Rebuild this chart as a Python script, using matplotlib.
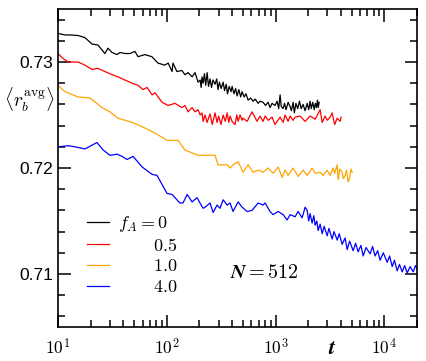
import math
import matplotlib
matplotlib.use("Agg")
import matplotlib.pyplot as plt
from matplotlib.ticker import MultipleLocator, FuncFormatter, FormatStrFormatter, LogLocator

plt.rcParams['font.family'] = ['Liberation Sans', 'DejaVu Sans']
plt.rcParams['mathtext.fontset'] = 'cm'

# f_A = 0
t_black = [10, 11.6, 12.9, 15.3, 17.7, 20.5, 23.3, 27, 28.8, 31.4, 34.9, 37.2, 41.3, 46, 51, 54.4,
           63, 73, 83, 96, 103, 112, 114, 124, 138, 147, 157, 171, 182, 194,
           203, 207, 211, 216, 222, 228, 235, 242, 250, 258, 266, 278, 288, 296, 305, 316, 330, 340,
           352, 362, 375, 390, 399, 415, 430, 443, 460, 478, 493, 515, 535, 560, 590, 622, 650, 692,
           722, 769, 810, 855, 891, 930, 990, 1035, 1070, 1102, 1130, 1175, 1210, 1250, 1306, 1362,
           1400, 1452, 1490, 1540, 1600, 1660, 1720, 1794, 1871, 1954, 2020, 2081, 2130, 2200, 2270,
           2320, 2380, 2430, 2470, 2520]
r_black = [0.7327, 0.73255, 0.73255, 0.7325, 0.7323, 0.7317, 0.7316, 0.7308, 0.7313, 0.7309, 0.7307,
           0.7309, 0.7308, 0.7308, 0.7310, 0.7305, 0.7307, 0.7305, 0.7299, 0.7297, 0.7299, 0.7291,
           0.7299, 0.7291, 0.7292, 0.7288, 0.7290, 0.7286, 0.7290, 0.7281,
           0.7283, 0.7276, 0.7286, 0.7280, 0.7289, 0.7278, 0.7290, 0.7277, 0.7284, 0.7276, 0.7283,
           0.7279, 0.7284, 0.7274, 0.7281, 0.7275, 0.7281, 0.7273, 0.7279, 0.7270, 0.7277, 0.7272,
           0.7277, 0.7270, 0.7275, 0.7268, 0.7274, 0.7267, 0.7272, 0.7267, 0.7270, 0.7264, 0.7266,
           0.7263, 0.7265, 0.7261, 0.7263, 0.7262, 0.7259, 0.7262, 0.7257, 0.7261, 0.7259, 0.7263,
           0.7256, 0.7269, 0.7258, 0.7256, 0.7261, 0.7255, 0.7262, 0.7258, 0.7254, 0.7262, 0.7252,
           0.7261, 0.7256, 0.7263, 0.7256, 0.7260, 0.7254, 0.7261, 0.7255, 0.7263, 0.7256, 0.7262,
           0.7255, 0.7261, 0.7257, 0.7264, 0.7257, 0.7262]

# f_A = 0.5
t_red = [10, 10.9, 12.4, 15.3, 17.7, 20.5, 23.3, 27, 31.4, 35.6, 41.3, 48, 54.4, 60.5, 65.9, 73.3,
         78, 90.5, 102.8, 119, 138, 147, 157, 171, 182, 194, 203,
         211, 216, 225, 235, 250, 262, 278, 290, 300, 315, 330, 345, 359, 372, 382, 399, 425, 440,
         453, 472, 493, 503, 548, 609, 677, 722, 769, 802, 855, 930, 990, 1102, 1175, 1225, 1306,
         1362, 1452, 1515, 1683, 1871, 2081, 2314, 2572, 2685, 2858, 3000, 3177, 3318, 3500, 3690,
         3930, 4010]
r_red = [0.7308, 0.7304, 0.7300, 0.7300, 0.7297, 0.7293, 0.7294, 0.7291, 0.7288, 0.7286, 0.7283,
         0.7280, 0.7278, 0.7274, 0.7276, 0.7269, 0.7271, 0.7262, 0.7259, 0.7261, 0.7257, 0.7259,
         0.7253, 0.7257, 0.7253, 0.7255, 0.7250,
         0.7252, 0.7244, 0.7250, 0.7243, 0.7251, 0.7241, 0.7252, 0.7243, 0.7249, 0.7241, 0.7250,
         0.7244, 0.7252, 0.7243, 0.7249, 0.7244, 0.7241, 0.7250, 0.7244, 0.7250, 0.7245, 0.7247,
         0.7244, 0.7253, 0.7244, 0.7249, 0.7244, 0.7249, 0.7245, 0.7248, 0.7241, 0.7248, 0.7243,
         0.7250, 0.7244, 0.7249, 0.7245, 0.7248, 0.7249, 0.7244, 0.7249, 0.7246, 0.7255, 0.7243,
         0.7249, 0.7245, 0.7248, 0.7252, 0.7241, 0.7247, 0.7244, 0.7248]

# f_A = 1.0
t_orange = [10, 11.6, 15.3, 19.7, 25.4, 30, 35.6, 48, 59.3, 78, 100.7, 127, 147, 194, 225, 278,
            296, 359, 382, 407, 453, 503, 560, 622, 692, 769, 855, 950, 1057, 1151, 1225, 1306,
            1452, 1614, 1794, 1954, 2171, 2314, 2572, 2740, 2985, 3177, 3388, 3500, 3690, 3767,
            3900, 4100, 4200, 4365, 4500, 4654, 4800, 4950, 5070]
r_orange = [0.7278, 0.7272, 0.7267, 0.7266, 0.7257, 0.7253, 0.7247, 0.7243, 0.7239, 0.7233,
            0.7226, 0.7226, 0.7217, 0.7212, 0.7212, 0.7212, 0.7203, 0.7203, 0.7200, 0.7203,
            0.7206, 0.7196, 0.7203, 0.7196, 0.7198, 0.7196, 0.7200, 0.7195, 0.7201, 0.7191,
            0.7198, 0.7193, 0.7200, 0.7192, 0.7198, 0.7193, 0.7200, 0.7195, 0.7196, 0.7193,
            0.7198, 0.7193, 0.7200, 0.7195, 0.7203, 0.7189, 0.7199, 0.7196, 0.7190, 0.7193,
            0.7198, 0.7187, 0.7191, 0.7199, 0.7196]

# f_A = 4.0
t_blue = [10, 12.4, 14.3, 17.7, 22.8, 26, 30, 34.9, 38.8, 43.1, 49, 59.3, 73.3, 81.4, 100.7, 112,
          132, 141, 154, 171, 190, 202, 216, 225, 250, 267, 290, 309, 330, 359, 382, 407, 453,
          493, 548, 609, 692, 769, 802, 891, 950, 1057, 1175, 1279, 1362, 1515, 1614, 1757,
          1871, 1954, 2020, 2081, 2171, 2250, 2314, 2400, 2466, 2572, 2685, 2800, 2985, 3100,
          3318, 3450, 3690, 3850, 4100, 4365, 4557, 4800, 5176, 5450, 5754, 6100, 6397, 6800,
          7420, 7800, 8245, 8700, 9160, 9800, 10640, 11200, 11830, 12400, 13150, 13800, 14620,
          15400, 16250, 17300, 18450, 19400, 20500]
r_blue = [0.7220, 0.7221, 0.7220, 0.7218, 0.7224, 0.7217, 0.7212, 0.7213, 0.7211, 0.7208, 0.7211,
          0.7201, 0.7194, 0.7193, 0.7176, 0.7175, 0.7167, 0.7167, 0.7175, 0.7168, 0.7172, 0.7167,
          0.7162, 0.7163, 0.7167, 0.7158, 0.7165, 0.7162, 0.7170, 0.7165, 0.7167, 0.7159, 0.7168,
          0.7163, 0.7159, 0.7160, 0.7167, 0.7165, 0.7167, 0.7159, 0.7156, 0.7159, 0.7156, 0.7151,
          0.7156, 0.7154, 0.7159, 0.7153,
          0.7163, 0.7160, 0.7150, 0.7157, 0.7148, 0.7155, 0.7146, 0.7150, 0.7141, 0.7147, 0.7138,
          0.7145, 0.7136, 0.7143, 0.7133, 0.7140, 0.7132, 0.7138, 0.7128, 0.7134, 0.7123, 0.7131,
          0.7122, 0.7129, 0.7121, 0.7127, 0.7117, 0.7125, 0.7119, 0.7126, 0.7117, 0.7122, 0.7113,
          0.7120, 0.7111, 0.7117, 0.7107, 0.7113, 0.7103, 0.7109, 0.7102, 0.7108, 0.7101, 0.7107,
          0.7102, 0.7108, 0.7103]

labels = [r'$f_A = 0$', '       $\\mathbf{0.5}$', '       $\\mathbf{1.0}$', '       $\\mathbf{4.0}$']
colors = ['black', 'red', 'orange', 'blue']

fig = plt.figure(figsize=(4.26, 3.61), dpi=100)
ax = fig.add_axes([58 / 426, 1 - 327 / 361, 359 / 426, 318 / 361])

for t, r, c, lab in zip([t_black, t_red, t_orange, t_blue], [r_black, r_red, r_orange, r_blue],
                        colors, labels):
    ax.plot(t, r, color=c, lw=0.9, label=lab)

ax.set_xscale('log')
ax.set_xlim(10, 2e4)
ax.set_ylim(0.705, 0.735)

# ticks
ax.yaxis.set_major_locator(MultipleLocator(0.01))
ax.yaxis.set_minor_locator(MultipleLocator(0.002))
ax.yaxis.set_major_formatter(FormatStrFormatter('%.2f'))
ax.xaxis.set_major_locator(LogLocator(base=10, numticks=10))
ax.xaxis.set_minor_locator(LogLocator(base=10, subs=range(2, 10), numticks=20))
ax.xaxis.set_major_formatter(FuncFormatter(lambda v, p: r'$\mathsf{10^{%d}}$' % round(math.log10(v))))

ax.tick_params(which='both', direction='in', top=True, right=True, labelsize=12.5, width=1.1)
ax.tick_params(which='major', length=9)
ax.tick_params(which='minor', length=5)
ax.tick_params(axis='x', pad=7)
for s in ax.spines.values():
    s.set_linewidth(1.2)

# labels
fig.text(29 / 426, 1 - 100 / 361, r'$\langle r_b^{\rm avg}\rangle$', fontsize=14, ha='center', va='center')
fig.text(332 / 426, 1 - 348 / 361, r'$\boldsymbol{t}$', fontsize=16, ha='center', va='center')
ax.text(0.48, 0.17, r'$\boldsymbol{N = 512}$', transform=ax.transAxes, fontsize=14.5, ha='left', va='center')

ax.legend(loc='upper left', bbox_to_anchor=(0.082, 0.355), frameon=False, fontsize=13,
          handlelength=1.2, handletextpad=0.5, labelspacing=0.2, borderpad=0, borderaxespad=0)

plt.savefig('out.png', dpi=100)
